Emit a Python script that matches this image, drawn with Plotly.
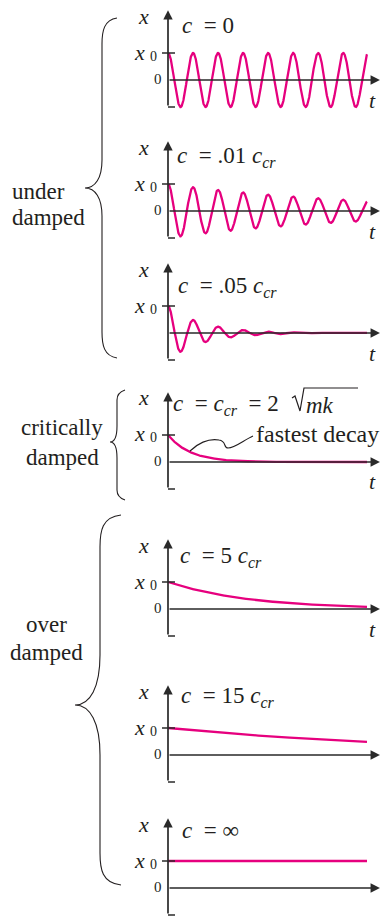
import numpy as np
import plotly.graph_objects as go

# ---------------- data ----------------
panel_labels = [
    "<i>c</i>\u00a0\u00a0= 0",
    "<i>c</i>\u00a0\u00a0= .01 <i>c</i><sub><i>cr</i></sub>",
    "<i>c</i>\u00a0\u00a0= .05 <i>c</i><sub><i>cr</i></sub>",
    "<i>c</i>\u00a0\u00a0= <i>c</i><sub><i>cr</i></sub>\u00a0\u00a0= 2",
    "<i>c</i>\u00a0\u00a0= 5 <i>c</i><sub><i>cr</i></sub>",
    "<i>c</i>\u00a0\u00a0= 15 <i>c</i><sub><i>cr</i></sub>",
    "<i>c</i>\u00a0\u00a0= \u221e",
]
decay_rate = [0.0, 1.0, 5.8, 9.0, 2.5, 0.72, 0.0]      # per unit time
cycles = [7.95, 7.95, 7.95, 0.0, 0.0, 0.0, 0.0]          # oscillations over the time span
show_t = [True, True, True, True, True, False, False]
show_zero = [True, True, False, True, True, True, True]
group_top = ["under", "critically", "over"]
group_bottom = ["damped", "damped", "damped"]
annotation_text = "fastest decay"
radicand = "<i>mk</i>"

# ---------------- layout geometry (pixels) ----------------
W, H = 383, 918
X0 = 168            # t = 0 pixel column
UX = 199            # pixels per unit t
UY = 27             # pixels per unit x (x0 = 1)
XMIN, XMAX = -0.23, 1.075
zero_px = [80, 211, 333, 462, 609, 755, 888]
label_dx = [12, 7, 8, 3, 10, 11, 12]
label_dy = [55, 54, 46, 57, 52, 58, 58]

MAG = "#E6007E"
INK = "#231F20"
AX = "#2a2a2a"
FONT = "Liberation Serif, Times New Roman, Times, serif"


def px2paper(x, y):
    return x / W, 1 - y / H


t = np.linspace(0, 1, 900)


def response(sig, cyc):
    if cyc > 0:
        w = 2 * np.pi * cyc
        return np.exp(-sig * t) * (np.cos(w * t) + sig / w * np.sin(w * t))
    return np.exp(-sig * t)


fig = go.Figure()
layout = dict(
    width=W, height=H, autosize=False,
    margin=dict(l=0, r=0, t=0, b=0),
    paper_bgcolor="white", plot_bgcolor="rgba(0,0,0,0)",
    showlegend=False,
)
annotations = []
shapes = []

for i in range(7):
    n = "" if i == 0 else str(i + 1)
    xa, ya = "x" + n, "y" + n
    z = zero_px[i]
    ytop, ybot = z - 70, z + 30
    layout["xaxis" + n] = dict(
        domain=[(X0 + XMIN * UX) / W, (X0 + XMAX * UX) / W],
        range=[XMIN, XMAX], visible=False, fixedrange=True, anchor=ya)
    layout["yaxis" + n] = dict(
        domain=[1 - ybot / H, 1 - ytop / H],
        range=[-30 / UY, 70 / UY], visible=False, fixedrange=True, anchor=xa)

    fig.add_trace(go.Scatter(
        x=t, y=response(decay_rate[i], cycles[i]), xaxis=xa, yaxis=ya,
        mode="lines", line=dict(color=MAG, width=2.3), hoverinfo="skip"))

    # axes with arrows
    annotations.append(dict(x=0, y=70 / UY - 0.01, ax=0, ay=-1, xref=xa, yref=ya,
                            axref=xa, ayref=ya, text="", showarrow=True,
                            arrowhead=2, arrowsize=1.1, arrowwidth=1.7,
                            arrowcolor=AX, standoff=0))
    annotations.append(dict(x=XMAX - 0.01, y=0, ax=0, ay=0, xref=xa, yref=ya,
                            axref=xa, ayref=ya, text="", showarrow=True,
                            arrowhead=2, arrowsize=1.1, arrowwidth=1.7,
                            arrowcolor=AX, standoff=0))
    # x0 tick and foot
    shapes.append(dict(type="line", xref=xa, yref=ya, x0=-6 / UX, x1=7 / UX,
                       y0=1, y1=1, line=dict(color=AX, width=1.7)))
    shapes.append(dict(type="line", xref=xa, yref=ya, x0=0, x1=7 / UX,
                       y0=-1, y1=-1, line=dict(color=AX, width=1.7)))

    base = dict(x=0, y=0, xref=xa, yref=ya, showarrow=False,
                font=dict(family=FONT, color=INK))
    annotations.append({**base, "text": "<i>x</i>", "xshift": -25, "yshift": 64,
                        "font": dict(family=FONT, color=INK, size=22)})
    annotations.append({**base, "text": "<i>x</i>", "xanchor": "right",
                        "xshift": -21, "yshift": 28,
                        "font": dict(family=FONT, color=INK, size=22)})
    annotations.append({**base, "text": "0", "xanchor": "left",
                        "xshift": -20, "yshift": 24,
                        "font": dict(family=FONT, color=INK, size=14)})
    if show_zero[i]:
        annotations.append({**base, "text": "0", "xanchor": "right",
                            "xshift": -4, "yshift": 1,
                            "font": dict(family=FONT, color=INK, size=15)})
    if show_t[i]:
        annotations.append({**base, "text": "<i>t</i>", "xshift": 204,
                            "yshift": -20,
                            "font": dict(family=FONT, color=INK, size=22)})
    annotations.append({**base, "text": panel_labels[i], "xanchor": "left",
                        "xshift": label_dx[i], "yshift": label_dy[i],
                        "font": dict(family=FONT, color=INK, size=23)})

# radical sign sqrt(mk) in the critical panel
pts = [(292, 398), (295, 396), (300, 411), (304, 388), (358, 388)]
pp = [px2paper(*p) for p in pts]
shapes.append(dict(type="path", xref="paper", yref="paper",
                   path="M " + " L ".join(f"{a:.5f},{b:.5f}" for a, b in pp),
                   line=dict(color=INK, width=1.2)))
mx, my = px2paper(304, 405)
annotations.append(dict(x=mx, y=my, xref="paper", yref="paper", xanchor="left",
                        text=radicand, showarrow=False,
                        font=dict(family=FONT, color=INK, size=23)))

# "fastest decay" with leader squiggle
fx, fy = px2paper(254, 434)
annotations.append(dict(x=fx, y=fy, xref="paper", yref="paper", xanchor="left",
                        text=annotation_text, showarrow=False,
                        font=dict(family=FONT, color=INK, size=24)))


def path_px(cmds):
    out = []
    for c in cmds:
        if isinstance(c, str):
            out.append(c)
        else:
            a, b = px2paper(*c)
            out.append(f"{a:.5f},{b:.5f}")
    return " ".join(out)


shapes.append(dict(type="path", xref="paper", yref="paper",
                   path=path_px(["M", (190, 451), "C", (197, 444), (208, 438), (219, 440),
                                 "C", (227, 441), (223, 448), (228, 448),
                                 "C", (235, 448), (244, 440), (253, 436)]),
                   line=dict(color=INK, width=1.1)))


# curly braces
def brace(x_end, x_body, x_tip, y_top, y_tip, y_bot, c1, c2):
    return path_px([
        "M", (x_end, y_top),
        "C", (x_body + 2, y_top + 2), (x_body, y_top + c1 * 0.5), (x_body, y_top + c1),
        "L", (x_body, y_tip - c2),
        "C", (x_body, y_tip - c2 * 0.35), (x_tip + (x_body - x_tip) * 0.6, y_tip), (x_tip, y_tip),
        "C", (x_tip + (x_body - x_tip) * 0.6, y_tip), (x_body, y_tip + c2 * 0.35), (x_body, y_tip + c2),
        "L", (x_body, y_bot - c1),
        "C", (x_body, y_bot - c1 * 0.5), (x_body + 2, y_bot - 2), (x_end, y_bot),
    ])


braces = [
    (117, 102, 85, 18, 188, 358, 26, 28),
    (125, 117, 110, 390, 442, 500, 10, 16),
    (121, 100, 75, 515, 705, 885, 32, 50),
]
for b in braces:
    shapes.append(dict(type="path", xref="paper", yref="paper", path=brace(*b),
                       line=dict(color=INK, width=1.1)))

# group labels
group_pos = [
    # (x, xanchor, y_top_line, y_bottom_line)
    (10, "left", 177, 203),
    (62, "center", 427, 457),
    (46, "center", 639, 667),
]
for (gx, anc, y1, y2), top, bot in zip(group_pos, group_top, group_bottom):
    for txt, yy in ((top, y1), (bot, y2)):
        a, b = px2paper(gx, yy)
        annotations.append(dict(x=a, y=b, xref="paper", yref="paper", xanchor=anc,
                                text=txt, showarrow=False,
                                font=dict(family=FONT, color=INK, size=23)))

layout["annotations"] = annotations
layout["shapes"] = shapes
fig.update_layout(**layout)
fig.write_html(
    "out.html",
    config={"displayModeBar": False},
    post_script="document.body.style.margin='0';document.body.style.overflow='hidden';",
)
